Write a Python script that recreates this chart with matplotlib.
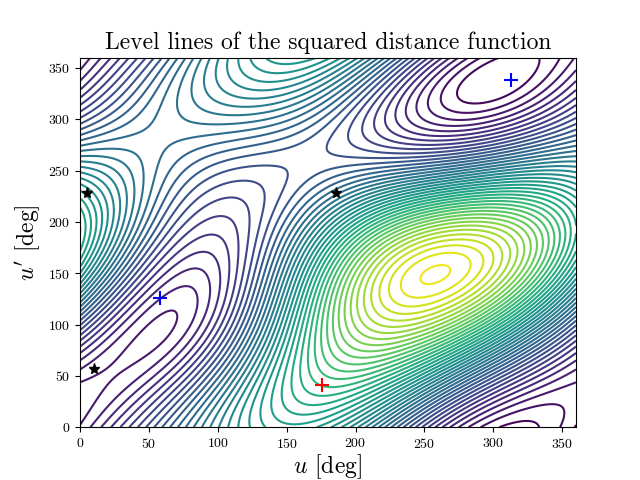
import numpy as np
import matplotlib
matplotlib.use("Agg")
import matplotlib.pyplot as plt

plt.rcParams["font.family"] = "cmr10"
plt.rcParams["mathtext.fontset"] = "cm"
plt.rcParams["axes.formatter.use_mathtext"] = True

# orbital elements of the two ellipses
a1, e1 = 1.0, 0.5
a2, e2 = 1.2, 0.45
omega2 = np.radians(-55.0)
inc2 = np.radians(55.0)
node = np.radians(90.0)  # direction of the line of nodes in the first plane

# critical points (deg)
minima_u = [58, 313]
minima_up = [126, 338]
maxima_u = [176]
maxima_up = [41]
saddle_u = [5, 10, 186]
saddle_up = [228, 57, 228]

u = np.radians(np.linspace(0, 360, 361))
up = np.radians(np.linspace(0, 360, 361))
U, UP = np.meshgrid(u, up)

x1 = a1 * (np.cos(U) - e1)
y1 = a1 * np.sqrt(1 - e1**2) * np.sin(U)
z1 = np.zeros_like(U)

xp = a2 * (np.cos(UP) - e2)
yp = a2 * np.sqrt(1 - e2**2) * np.sin(UP)
xr = xp * np.cos(omega2) - yp * np.sin(omega2)
yr = xp * np.sin(omega2) + yp * np.cos(omega2)
# tilt about the line of nodes
cn, sn = np.cos(node), np.sin(node)
along = xr * cn + yr * sn
perp = -xr * sn + yr * cn
x2 = along * cn - perp * np.cos(inc2) * sn
y2 = along * sn + perp * np.cos(inc2) * cn
z2 = perp * np.sin(inc2)

d2 = (x1 - x2)**2 + (y1 - y2)**2 + (z1 - z2)**2

fig, ax = plt.subplots(figsize=(6.4, 4.8), dpi=100)
ax.contour(np.degrees(U), np.degrees(UP), d2, levels=50, cmap="viridis", linewidths=1.5)
ax.plot(minima_u, minima_up, "b+", ms=10, mew=1.5)
ax.plot(maxima_u, maxima_up, "r+", ms=10, mew=1.5)
ax.plot(saddle_u, saddle_up, "k*", ms=8)
ax.set_xlim(0, 360)
ax.set_ylim(0, 360)
ax.set_title("Level lines of the squared distance function", fontsize=17)
ax.set_xlabel(r"$u$ [deg]", fontsize=17, labelpad=1)
ax.set_ylabel(r"$u'$ [deg]", fontsize=17)
fig.savefig("out.png")
